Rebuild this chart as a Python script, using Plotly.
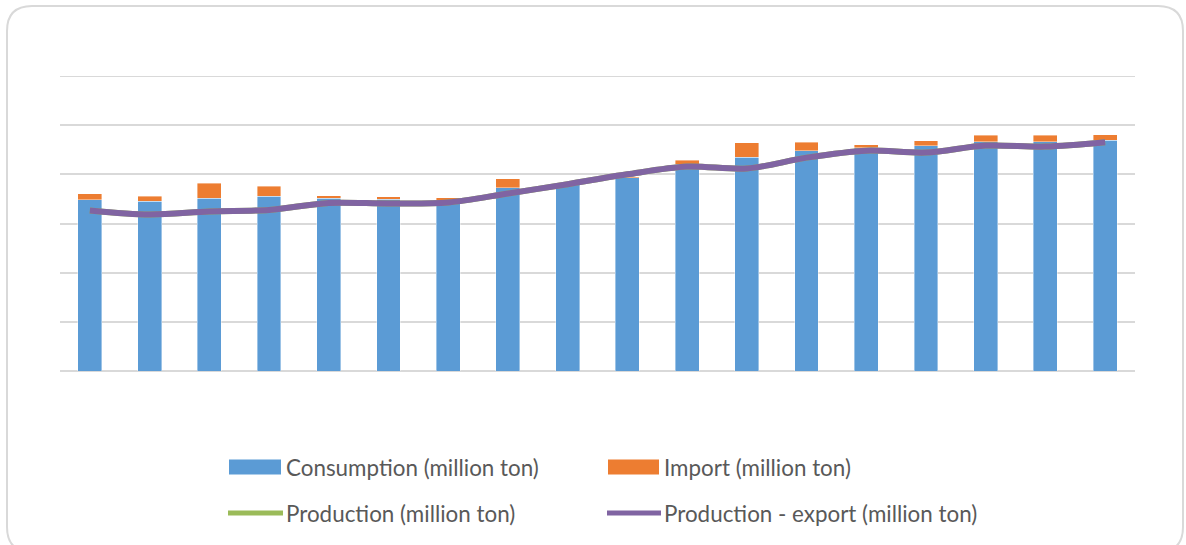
import plotly.graph_objects as go

# ---- data (million ton) ----
years = [str(y) for y in range(2000, 2018)]
consumption = [17.41, 17.27, 17.58, 17.78, 17.55, 17.47, 17.39, 18.63, 18.94, 19.65,
               21.03, 21.73, 22.39, 22.72, 22.89, 23.30, 23.30, 23.46]
imports = [0.64, 0.51, 1.49, 1.01, 0.27, 0.27, 0.22, 0.94, 0.05, 0.13,
           0.38, 1.49, 0.86, 0.30, 0.54, 0.67, 0.67, 0.58]
production = [16.33, 15.92, 16.23, 16.38, 17.09, 17.04, 17.14, 18.05, 19.00, 20.00,
              20.79, 20.59, 21.70, 22.41, 22.21, 22.92, 22.82, 23.26]
prod_minus_export = [16.33, 15.92, 16.23, 16.38, 17.09, 17.04, 17.14, 18.05, 19.00, 20.00,
                     20.79, 20.59, 21.70, 22.41, 22.21, 22.92, 22.82, 23.26]
y_max = 30
y_step = 5

BLUE = "#5B9BD5"
ORANGE = "#ED7D31"
GREEN = "#9BBB59"
PURPLE = "#8064A2"
GRID = "#D9D9D9"
TEXT = "#595959"

W, H = 1186, 545
L, R, T, B = 60, 1186 - 1135, 76, 545 - 371
PW, PH = W - L - R, H - T - B


def px(x):
    return (x - L) / PW


def py(y):
    return (H - B - y) / PH


fig = go.Figure()
fig.add_trace(go.Bar(x=years, y=consumption, name="Consumption (million ton)",
                     marker=dict(color=BLUE, line=dict(color="rgba(255,255,255,0.5)", width=0.8)),
                     showlegend=False))
fig.add_trace(go.Bar(x=years, y=imports, name="Import (million ton)",
                     marker=dict(color=ORANGE, line=dict(color="rgba(255,255,255,0.5)", width=0.8)),
                     showlegend=False))
fig.add_trace(go.Scatter(x=years, y=production, name="Production (million ton)", mode="lines",
                         line=dict(color=GREEN, width=6, shape="spline", smoothing=0.9),
                         showlegend=False))
fig.add_trace(go.Scatter(x=years, y=prod_minus_export, name="Production - export (million ton)",
                         mode="lines",
                         line=dict(color=PURPLE, width=6, shape="spline", smoothing=0.9),
                         showlegend=False))

shapes = []
# rounded outer border
x0, x1, y0, y1, r = 7, 1183, 6, 552, 25
rx, ry = r / PW, r / PH
X0, X1, Y0, Y1 = px(x0), px(x1), py(y0), py(y1)
path = (f"M {X0+rx},{Y0} L {X1-rx},{Y0} Q {X1},{Y0} {X1},{Y0-ry} "
        f"L {X1},{Y1+ry} Q {X1},{Y1} {X1-rx},{Y1} L {X0+rx},{Y1} "
        f"Q {X0},{Y1} {X0},{Y1+ry} L {X0},{Y0-ry} Q {X0},{Y0} {X0+rx},{Y0} Z")
shapes.append(dict(type="path", xref="paper", yref="paper", path=path,
                   line=dict(color=GRID, width=2), fillcolor="rgba(0,0,0,0)", layer="below"))
# top gridline (at the range edge)
shapes.append(dict(type="line", xref="paper", yref="y", x0=0, x1=1, y0=y_max, y1=y_max,
                   line=dict(color=GRID, width=2), layer="below"))

# custom legend
legend_items = [
    ("rect", BLUE, 229, 281, 467, "Consumption (million ton)", 286),
    ("rect", ORANGE, 608, 659, 467, "Import (million ton)", 664),
    ("line", GREEN, 228, 283, 513, "Production (million ton)", 286),
    ("line", PURPLE, 607, 661, 513, "Production - export (million ton)", 664),
]
annotations = []
for kind, col, xa, xb, yc, label, tx in legend_items:
    if kind == "rect":
        shapes.append(dict(type="rect", xref="paper", yref="paper",
                           x0=px(xa), x1=px(xb), y0=py(yc - 7.5), y1=py(yc + 7.5),
                           fillcolor=col, line=dict(width=0)))
    else:
        shapes.append(dict(type="line", xref="paper", yref="paper",
                           x0=px(xa), x1=px(xb), y0=py(yc), y1=py(yc),
                           line=dict(color=col, width=5)))
    annotations.append(dict(xref="paper", yref="paper", x=px(tx), y=py(yc),
                            xanchor="left", yanchor="middle", text=label, showarrow=False,
                            xshift=-2, font=dict(family="Lato", size=22.4, color=TEXT)))

fig.update_layout(
    width=W, height=H,
    margin=dict(l=L, r=R, t=T, b=B),
    paper_bgcolor="white", plot_bgcolor="white",
    barmode="stack", bargap=0.6,
    showlegend=False,
    shapes=shapes, annotations=annotations,
    xaxis=dict(showticklabels=False, showgrid=False, zeroline=False, ticks="",
               showline=False),
    yaxis=dict(range=[0, y_max], dtick=y_step, showticklabels=False, showgrid=True,
               gridcolor=GRID, gridwidth=2, zeroline=True, zerolinecolor=GRID,
               zerolinewidth=2, ticks=""),
    font=dict(family="Lato", color=TEXT),
)

fig.write_html("out.html", config={"displayModeBar": False},
               post_script="document.body.style.margin='0';document.body.style.padding='0';"
                           "document.body.style.overflow='hidden';")
